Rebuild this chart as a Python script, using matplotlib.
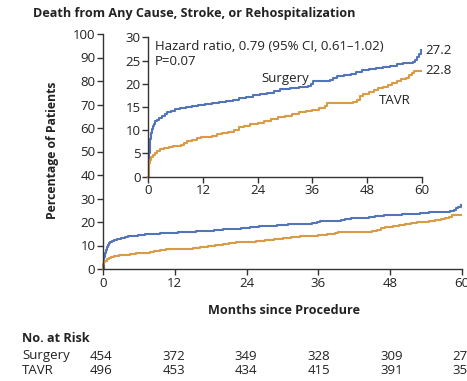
import matplotlib
matplotlib.use("Agg")
import matplotlib.pyplot as plt
import matplotlib.transforms as mtransforms

plt.rcParams['font.family'] = ['Open Sans', 'DejaVu Sans']

# ---- data ----
surgery_months = [0, 0.1, 0.2, 0.3, 0.45, 0.6, 0.8, 1.0, 1.2, 1.5, 1.9, 2.4, 3.0, 3.6, 4.2, 5.0, 5.8,
                  7.0, 8.2, 9.5, 11.0, 12.5, 14.0, 15.5, 17.0, 18.5, 20.0, 21.5, 23.0, 24.5, 26.0,
                  27.5, 29.0, 31.0, 33.0, 35.0, 35.7, 36.2, 38.0, 39.8, 40.5, 41.5, 43.0, 44.5,
                  45.5, 47.0, 48.5, 50.0, 51.5, 53.0, 54.5, 56.0, 58.0, 58.6, 59.0, 59.4, 59.8]
surgery_pct = [0, 2.5, 5.0, 6.8, 8.2, 9.3, 10.2, 10.9, 11.4, 11.9, 12.3, 12.7, 13.1, 13.5, 13.9, 14.2, 14.5,
               14.7, 15.0, 15.2, 15.4, 15.6, 15.8, 16.0, 16.3, 16.6, 16.9, 17.2, 17.5, 17.8, 18.1,
               18.5, 18.8, 19.0, 19.2, 19.5, 20.0, 20.5, 20.6, 20.8, 21.3, 21.6, 21.8, 22.1,
               22.6, 22.9, 23.1, 23.4, 23.6, 23.9, 24.2, 24.4, 24.6, 25.2, 25.8, 26.5, 27.2]

tavr_months = [0, 0.05, 0.15, 0.4, 0.7, 1.0, 1.4, 1.9, 2.6, 3.5, 4.5, 5.5, 7.2, 7.8, 8.6, 9.6, 10.6,
               11.5, 14.0, 15.0, 16.2, 17.5, 18.8, 20.0, 21.0, 22.3, 24.0, 25.5, 27.0, 28.5, 30.0,
               31.5, 33.0, 34.5, 36.0, 37.5, 38.8, 39.3, 45.0, 45.8, 46.5, 47.2, 48.5, 49.5, 50.5,
               51.5, 52.5, 53.5, 54.5, 55.5, 56.5, 57.2, 57.8, 58.3, 59.8]
tavr_pct = [0, 2.0, 3.0, 3.6, 4.2, 4.7, 5.1, 5.6, 5.9, 6.1, 6.4, 6.6, 6.8, 7.3, 7.7, 8.0, 8.4,
            8.6, 8.7, 9.1, 9.4, 9.7, 10.1, 10.6, 11.0, 11.4, 11.6, 12.0, 12.4, 12.8, 13.1,
            13.5, 13.9, 14.1, 14.4, 14.8, 15.3, 15.8, 16.0, 16.6, 17.3, 17.9, 18.3, 18.7, 19.0,
            19.4, 19.8, 20.2, 20.6, 21.0, 21.3, 21.8, 22.3, 22.8, 22.8]

x_ticks = [0, 12, 24, 36, 48, 60]
main_y_ticks = [0, 10, 20, 30, 40, 50, 60, 70, 80, 90, 100]
inset_y_ticks = [0, 5, 10, 15, 20, 25, 30]
risk_surgery = [454, 372, 349, 328, 309, 276]
risk_tavr = [496, 453, 434, 415, 391, 353]
final_surgery = "27.2"
final_tavr = "22.8"

BLUE = '#5274b8'
ORANGE = '#d99b45'
SPINE = '#333333'
TXT = '#222222'
FS = 9.5
FSB = 9.1

fig = plt.figure(figsize=(4.67, 3.81), dpi=100)

def style(ax):
    for s in ['top', 'right']:
        ax.spines[s].set_visible(False)
    for s in ['left', 'bottom']:
        ax.spines[s].set_color(SPINE)
        ax.spines[s].set_linewidth(1.0)
    ax.tick_params(direction='out', length=4, width=1.0, color=SPINE,
                   labelsize=FS, labelcolor=TXT, pad=1.5)

# main axes
ax = fig.add_axes([103/467, 1-269/381, (462-103)/467, (269-34)/381])
style(ax)
ax.step(surgery_months, surgery_pct, where='post', color=BLUE, lw=1.5, clip_on=False)
ax.step(tavr_months, tavr_pct, where='post', color=ORANGE, lw=1.5, clip_on=False)
ax.set_xlim(0, 60)
ax.set_ylim(0, 100)
ax.set_xticks(x_ticks)
ax.set_yticks(main_y_ticks)

# inset axes
axi = fig.add_axes([148.3/467, 1-176.7/381, 273.4/467, 139.4/381])
style(axi)
axi.patch.set_facecolor('white')
axi.step(surgery_months, surgery_pct, where='post', color=BLUE, lw=1.5, clip_on=False)
axi.step(tavr_months, tavr_pct, where='post', color=ORANGE, lw=1.5, clip_on=False)
axi.set_xlim(0, 60)
axi.set_ylim(0, 30)
axi.set_xticks(x_ticks)
axi.set_yticks(inset_y_ticks)
axi.text(1.5, 29.5, 'Hazard ratio, 0.79 (95% CI, 0.61\u20131.02)\nP=0.07', fontsize=FS,
         va='top', ha='left', linespacing=1.25, color=TXT)
axi.text(30, 21.2, 'Surgery', fontsize=FS, ha='center', va='center', color=TXT)
axi.text(54, 16.4, 'TAVR', fontsize=FS, ha='center', va='center', color=TXT)
axi.text(60.7, float(final_surgery), final_surgery, fontsize=FS, ha='left', va='center', color=TXT)
axi.text(60.7, float(final_tavr), final_tavr, fontsize=FS, ha='left', va='center', color=TXT)

# labels
fig.text(33/467, 1-14/381, 'Death from Any Cause, Stroke, or Rehospitalization', fontsize=FSB,
         fontweight='bold', ha='left', va='center', color=TXT)
fig.text(53/467, 1-150/381, 'Percentage of Patients', fontsize=8.8, fontweight='bold',
         rotation=90, ha='center', va='center', color=TXT)
fig.text(283.5/467, 1-310/381, 'Months since Procedure', fontsize=FSB, fontweight='bold',
         ha='center', va='center', color=TXT)

# at-risk table
trans = mtransforms.blended_transform_factory(ax.transData, fig.transFigure)
fig.text(22/467, 1-338/381, 'No. at Risk', fontsize=FSB, fontweight='bold', ha='left', va='center', color=TXT)
fig.text(22/467, 1-356/381, 'Surgery', fontsize=FS, ha='left', va='center', color=TXT)
fig.text(22/467, 1-371/381, 'TAVR', fontsize=FS, ha='left', va='center', color=TXT)
for m, a, b in zip(x_ticks, risk_surgery, risk_tavr):
    ax.text(m - 0.3 + m * 0.01, 1-356/381, str(a), transform=trans, fontsize=FS, ha='center', va='center', color=TXT)
    ax.text(m - 0.3 + m * 0.01, 1-371/381, str(b), transform=trans, fontsize=FS, ha='center', va='center', color=TXT)

fig.savefig('out.png', dpi=100)
